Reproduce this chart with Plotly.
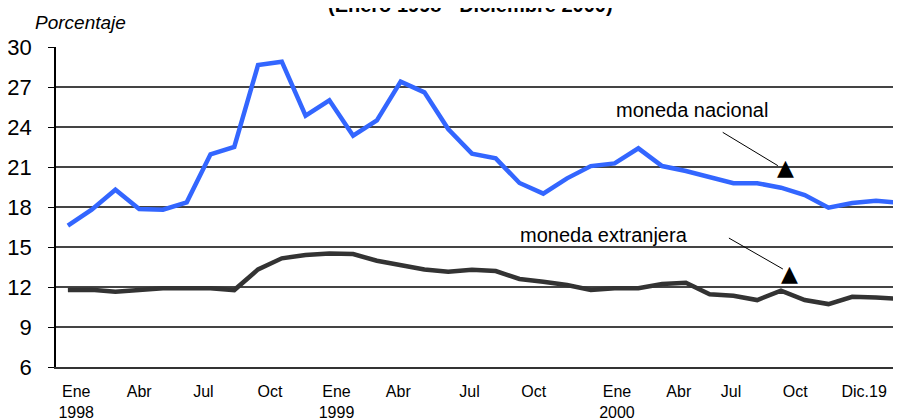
import plotly.graph_objects as go

# tasas mensuales, enero 1998 - diciembre 2000
nacional = [16.6, 17.8, 19.3, 17.85, 17.8, 18.35, 21.95, 22.5, 28.65, 28.9, 24.85, 26.0,
            23.35, 24.5, 27.4, 26.6, 23.85, 22.0, 21.65, 19.8, 19.0, 20.15, 21.07, 21.27,
            22.4, 21.07, 20.7, 20.2, 19.78, 19.78, 19.45, 18.9, 17.95, 18.3, 18.47, 18.3]
extranjera = [11.77, 11.8, 11.65, 11.8, 11.9, 11.9, 11.9, 11.77, 13.32, 14.15, 14.4, 14.52,
              14.47, 13.97, 13.65, 13.32, 13.15, 13.3, 13.2, 12.6, 12.4, 12.15, 11.77, 11.9,
              11.9, 12.22, 12.32, 11.45, 11.35, 11.02, 11.72, 11.02, 10.72, 11.27, 11.22, 11.1]
meses = list(range(len(nacional)))

tick_pos = [0.35, 3.0, 5.7, 8.5, 11.3, 13.9, 16.9, 19.6, 23.1, 25.7, 27.9, 30.6, 33.5]
tick_text = ["Ene<br>1998", "Abr", "Jul", "Oct", "Ene<br>1999", "Abr", "Jul", "Oct",
             "Ene<br>2000", "Abr", "Jul", "Oct", "Dic.19"]
y_ticks = [6, 9, 12, 15, 18, 21, 24, 27, 30]

fig = go.Figure()
fig.add_trace(go.Scatter(x=meses, y=nacional, mode="lines", name="moneda nacional",
                         line=dict(color="#3366FF", width=4.5)))
fig.add_trace(go.Scatter(x=meses, y=extranjera, mode="lines", name="moneda extranjera",
                         line=dict(color="#333333", width=4.5)))

font = "Arial, Liberation Sans, sans-serif"

# la pagina tiene 8px de margen en el body: se compensa aqui
fig.update_layout(width=901, height=419, showlegend=False,
                  margin=dict(l=48, r=8, t=39, b=60),
                  paper_bgcolor="white", plot_bgcolor="white",
                  font=dict(family=font, color="black"))

fig.update_xaxes(range=[-0.5, 35.05], tickvals=tick_pos, ticktext=tick_text,
                 tickfont=dict(size=16), ticks="", showgrid=False, zeroline=False,
                 showline=True, linecolor="#333333", linewidth=1.5,
                 ticklabelstandoff=9, automargin=False)
fig.update_yaxes(range=[6, 30], tickvals=y_ticks, tickfont=dict(size=22),
                 ticks="outside", ticklen=6, tickcolor="black", tickwidth=1,
                 showline=True, linecolor="black", linewidth=1.5,
                 showgrid=True, gridcolor="#444444", gridwidth=1.5,
                 zeroline=False, ticklabelstandoff=12, automargin=False)

# titulo (cortado arriba, como en el original) y unidad
fig.add_annotation(text="<b>(Enero 1998 - Diciembre 2000)</b>", xref="paper", yref="paper",
                   x=0.491, y=1, yanchor="bottom", yshift=29, showarrow=False,
                   font=dict(size=20))
fig.add_annotation(text="<i>Porcentaje</i>", xref="paper", yref="paper",
                   x=-0.027, y=1, xanchor="left", yanchor="bottom", yshift=12,
                   showarrow=False, font=dict(size=19))

# etiquetas con flechas
fig.add_annotation(text="moneda nacional", x=26.25, y=25.27, showarrow=False,
                   font=dict(size=20))
fig.add_annotation(text="moneda extranjera", x=22.57, y=15.9, showarrow=False,
                   font=dict(size=20))
fig.add_shape(type="line", x0=27.55, y0=23.6, x1=29.87, y1=21.1,
              line=dict(color="black", width=1))
fig.add_shape(type="line", x0=27.81, y0=15.67, x1=30.08, y1=13.35,
              line=dict(color="black", width=1))
fig.add_annotation(text="▲", x=30.17, y=21.0, showarrow=False,
                   font=dict(size=22, family="DejaVu Sans"))
fig.add_annotation(text="▲", x=30.37, y=13.0, showarrow=False,
                   font=dict(size=22, family="DejaVu Sans"))

fig.write_html("out.html")
